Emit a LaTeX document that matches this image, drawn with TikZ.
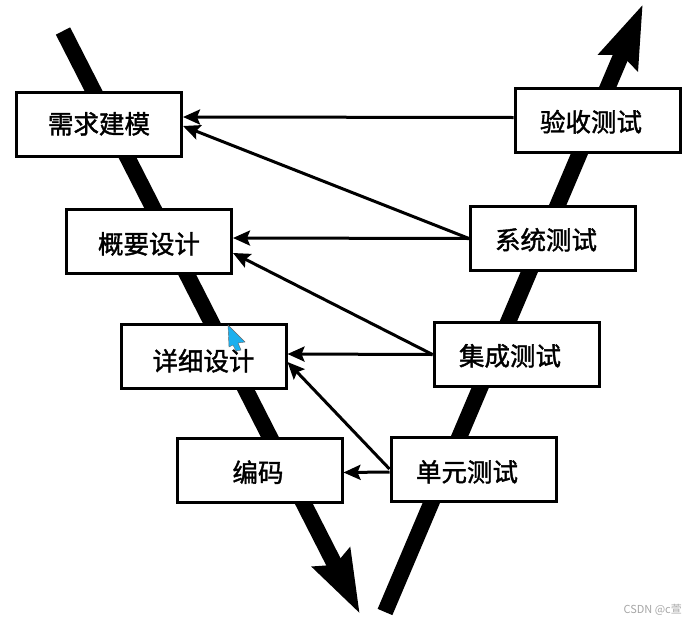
\documentclass[tikz,border=0pt]{standalone}
\usepackage{fontspec}
\setmainfont{Noto Sans CJK SC}
\newfontfamily\stagefont[FakeBold=1.5]{Noto Sans CJK SC}
\usetikzlibrary{arrows.meta,positioning,calc}
\definecolor{pointerblue}{HTML}{1CB0EE}
\newcommand{\stagetext}[3]{\hspace*{#1}\raisebox{\dimexpr-8.5pt-#2\relax}[0pt][0pt]{#3}}

\begin{document}
\begin{tikzpicture}[x=1pt, y=-1pt,
    stagebox/.style={rectangle, draw=black, fill=white, line width=3pt, minimum width=165pt, minimum height=64pt, inner sep=0pt, font=\stagefont\fontsize{25.5pt}{27pt}\selectfont},
    flowline/.style={-{Stealth[length=17pt,width=15pt,inset=3pt]}, line width=3pt, black},
    vline/.style={line width=16pt, black, -{Stealth[length=62pt,width=40pt,inset=7pt]}}
  ]
    \useasboundingbox (0,0) rectangle (690,624);

    % the two legs of the V
    \coordinate (downstart) at (63,31);
    \coordinate (downend) at (360,614);
    \coordinate (upstart) at (385,612);
    \coordinate (upend) at (643,4);
    \draw[vline] (downstart) -- (downend);
    \draw[vline] (upstart) -- (upend);

    % design side
    \node[stagebox] (req) at (99,124) {\stagetext{0pt}{1pt}{需求建模}};
    \node[stagebox] (outline) at (149,241) {\stagetext{0pt}{4pt}{概要设计}};
    \node[stagebox] (detail) at (203.5,356) {\stagetext{0pt}{6pt}{详细设计}};
    \node[stagebox] (code) at (259.5,470.5) {\stagetext{-3pt}{3pt}{编码}};

    % test side
    \node[stagebox] (accept) at (597.5,120.5) {\stagetext{-13pt}{2.5pt}{验收测试}};
    \node[stagebox] (system) at (553,238.5) {\stagetext{-14pt}{2.5pt}{系统测试}};
    \node[stagebox] (integ) at (516.5,354.5) {\stagetext{-13pt}{2.5pt}{集成测试}};
    \node[stagebox] (unit) at (473.5,469) {\stagetext{-13pt}{4pt}{单元测试}};

    \draw[flowline] (accept.west) ++(0,-3) -- ([yshift=7pt]req.east);
    \draw[flowline] (system.west) -- ([yshift=-2pt]req.east);
    \draw[flowline] (system.west) -- ([yshift=3pt]outline.east);
    \draw[flowline] (integ.west) -- ([yshift=-12pt]outline.east);
    \draw[flowline] (integ.west) -- ([yshift=2pt]detail.east);
    \draw[flowline] (unit.west) -- ([yshift=-6pt]detail.east);
    \draw[flowline] ([yshift=-3pt]unit.west) -- ([yshift=-2pt]code.east);

    % pointer on top of the picture
    \fill[fill=pointerblue, draw=black!60, line width=0.4pt] (228,325) -- (245,342) -- (238,343) -- (241,350) -- (236,351) -- (233,345) -- (229,347) -- cycle;

    \node[text=black!35, font=\fontsize{11pt}{12pt}\selectfont, anchor=east, inner sep=0pt] (mark) at (682,610) {CSDN @c萱};
\end{tikzpicture}
\end{document}
